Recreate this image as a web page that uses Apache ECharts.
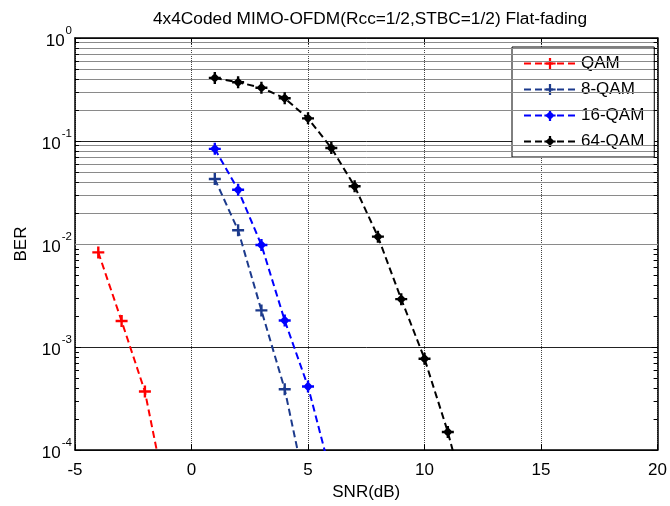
<!DOCTYPE html>
<html>
<head>
<meta charset="utf-8">
<script src="https://cdn.jsdelivr.net/npm/echarts@6/dist/echarts.min.js"></script>
<style>html,body{margin:0;padding:0;background:#fff;}#c{width:670px;height:506px;}</style>
</head>
<body>
<div id="c"></div>
<script>
// ---- data ----
const titleText = '4x4Coded MIMO-OFDM(Rcc=1/2,STBC=1/2) Flat-fading';
const seriesNames = ['QAM', '8-QAM', '16-QAM', '64-QAM'];
const snrQAM = [-4, -3, -2, -1];
const berQAM = [8.3e-3, 1.79e-3, 3.7e-4, 2.8e-5];
const snr8QAM = [1, 2, 3, 4, 5];
const ber8QAM = [4.28e-2, 1.36e-2, 2.27e-3, 3.9e-4, 3.3e-5];
const snr16QAM = [1, 2, 3, 4, 5, 6];
const ber16QAM = [8.4e-2, 3.36e-2, 9.8e-3, 1.81e-3, 4.14e-4, 5.6e-5];
const snr64QAM = [1, 2, 3, 4, 5, 6, 7, 8, 9, 10, 11, 12];
const ber64QAM = [0.41, 0.372, 0.329, 0.26, 0.166, 0.0856, 0.0364, 0.0118, 0.00292, 0.00077, 0.00015, 2.1e-5];
const xTicks = [-5, 0, 5, 10, 15, 20];
const yDecades = [1e-4, 1e-3, 1e-2, 1e-1, 1];
const minorMultipliers = [2, 3, 4, 5, 6, 7, 8, 9];

// ---- derived ----
const xMin = xTicks[0], xMax = xTicks[xTicks.length - 1];
const minorVals = [];
yDecades.slice(0, -1).forEach(d => minorMultipliers.forEach(m => minorVals.push(m * d)));
const zip = (xs, ys) => xs.map((x, i) => [x, ys[i]]);

const FONT = 'Liberation Sans, Arial, sans-serif';
const plusPath = 'path://M4,0H6V4H10V6H6V10H4V6H0V4H4Z';
const starPath = 'path://M4,0H6V4H10V6H6V10H4V6H0V4H4Z M5,0.9L9.1,5L5,9.1L0.9,5Z';

function mkSeries(name, xs, ys, color, symbol, size) {
  return {
    name, type: 'line', data: zip(xs, ys), xAxisIndex: 0, yAxisIndex: 0,
    symbol, symbolSize: size, showSymbol: true, clip: true, z: 5,
    lineStyle: { color, width: 2, type: [7, 4] },
    itemStyle: { color, borderWidth: 0 },
    emphasis: { disabled: true }
  };
}

const tickLen = (xMax - xMin) * 5 / 589;
const chart = echarts.init(document.getElementById('c'), null, { renderer: 'canvas' });
chart.setOption({
  animation: false,
  backgroundColor: '#fff',
  title: {
    text: titleText, left: 148, top: 6,
    textStyle: { fontFamily: FONT, fontSize: 17.3, fontWeight: 'normal', color: '#000' }
  },
  grid: { left: 75, right: 6, top: 38, bottom: 51, containLabel: false },
  legend: {
    data: seriesNames, orient: 'vertical', left: 512, top: 47,
    backgroundColor: '#fff', borderColor: '#000', borderWidth: 1,
    padding: [8, 10, 7, 11], itemGap: 9, itemWidth: 52, itemHeight: 14,
    textStyle: { fontFamily: FONT, fontSize: 17, color: '#000', lineHeight: 17 }
  },
  xAxis: [{
    type: 'value', position: 'bottom', min: xMin, max: xMax, interval: 5,
    name: 'SNR(dB)', nameLocation: 'middle', nameGap: 31,
    nameTextStyle: { fontFamily: FONT, fontSize: 17, color: '#000' },
    axisLine: { show: true, onZero: false, lineStyle: { color: '#000', width: 1.5 } },
    axisTick: { show: true, inside: true, length: 6, lineStyle: { color: '#000' } },
    axisLabel: { fontFamily: FONT, fontSize: 17, color: '#000', margin: 12 },
    splitLine: { show: true, lineStyle: { color: '#444', width: 1, type: [1, 1] } }
  }, {
    type: 'value', position: 'top', min: xMin, max: xMax, interval: 5,
    axisLine: { show: true, onZero: false, lineStyle: { color: '#000', width: 1.5 } },
    axisTick: { show: true, inside: true, length: 6, lineStyle: { color: '#000' } },
    axisLabel: { show: false }, splitLine: { show: false }
  }],
  yAxis: [{
    type: 'log', logBase: 10, min: yDecades[0], max: yDecades[yDecades.length - 1],
    position: 'left',
    name: 'BER', nameLocation: 'middle', nameGap: 45,
    nameTextStyle: { fontFamily: FONT, fontSize: 17, color: '#000' },
    axisLine: { show: true, onZero: false, lineStyle: { color: '#000', width: 1.5 } },
    axisTick: { show: true, inside: true, length: 6, lineStyle: { color: '#000' } },
    axisLabel: {
      margin: 3,
      formatter: v => '{b|10}{s|' + Math.round(Math.log10(v)) + '}',
      rich: {
        b: { fontFamily: FONT, fontSize: 17, color: '#000', lineHeight: 19, padding: [6, 0, 0, 0] },
        s: { fontFamily: FONT, fontSize: 11.5, color: '#000', lineHeight: 13, padding: [0, 0, 14, 1] }
      }
    },
    splitLine: { show: true, lineStyle: { color: '#222', width: 1 } }
  }, {
    type: 'log', logBase: 10, min: yDecades[0], max: yDecades[yDecades.length - 1],
    position: 'right',
    axisLine: { show: true, onZero: false, lineStyle: { color: '#000', width: 1.5 } },
    axisTick: { show: true, inside: true, length: 6, lineStyle: { color: '#000' } },
    axisLabel: { show: false }, splitLine: { show: false }
  }],
  series: [
    {
      name: '_grid', type: 'line', data: [], xAxisIndex: 0, yAxisIndex: 0, z: 1, silent: true,
      markLine: {
        silent: true, symbol: 'none', animation: false, label: { show: false },
        lineStyle: { color: '#8a8a8a', width: 1, type: 'solid' },
        data: minorVals.map(v => ({ yAxis: v }))
      }
    },
    {
      name: '_ticks', type: 'line', data: [], xAxisIndex: 0, yAxisIndex: 0, z: 3, silent: true,
      markLine: {
        silent: true, symbol: 'none', animation: false, label: { show: false },
        lineStyle: { color: '#000', width: 1, type: 'solid' },
        data: minorVals.map(v => [{ coord: [xMin, v] }, { coord: [xMin + tickLen * 0.8, v] }])
          .concat(minorVals.map(v => [{ coord: [xMax - tickLen * 0.8, v] }, { coord: [xMax, v] }]))
      }
    },
    mkSeries(seriesNames[0], snrQAM, berQAM, '#ff0000', plusPath, 12),
    mkSeries(seriesNames[1], snr8QAM, ber8QAM, '#1c3a8c', plusPath, 12),
    mkSeries(seriesNames[2], snr16QAM, ber16QAM, '#0000ff', starPath, 12),
    mkSeries(seriesNames[3], snr64QAM, ber64QAM, '#000000', starPath, 12)
  ]
});
</script>
</body>
</html>
